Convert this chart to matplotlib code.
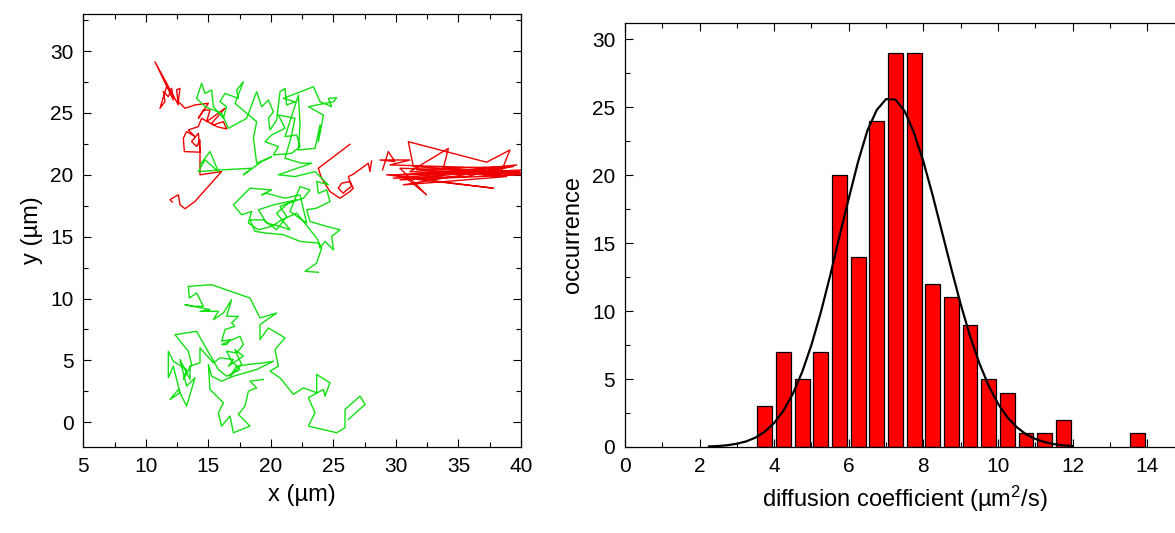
import numpy as np
import matplotlib
matplotlib.use('Agg')
import matplotlib.pyplot as plt
from matplotlib.ticker import MultipleLocator

plt.rcParams['font.family'] = ['Liberation Sans', 'DejaVu Sans']
plt.rcParams['mathtext.fontset'] = 'custom'
plt.rcParams['mathtext.rm'] = 'Liberation Sans'
plt.rcParams['mathtext.it'] = 'Liberation Sans'

# --- trajectories (x, y in um) ---
red_a = [(11.66, 27.13), (11.13, 25.38), (11.53, 25.92), (11.40, 26.72), (11.80, 26.32),
         (12.06, 26.99), (12.20, 26.05), (10.73, 29.14), (12.60, 25.65), (12.46, 26.86),
         (12.73, 26.99), (12.60, 25.92), (13.13, 25.38), (13.93, 25.65), (15.00, 25.78),
         (14.20, 24.57), (14.60, 25.24), (15.13, 25.24), (14.86, 24.30), (16.33, 25.38),
         (15.26, 24.17), (15.66, 23.90), (16.46, 23.71), (16.20, 24.30), (15.40, 24.03),
         (14.46, 24.57), (14.20, 23.90), (13.40, 23.63), (13.93, 23.09), (13.26, 23.50),
         (13.00, 22.96), (13.08, 21.88), (14.33, 21.83), (14.20, 23.36), (13.66, 22.69),
         (14.06, 22.29), (14.33, 22.83), (14.33, 20.00), (16.06, 20.27), (13.93, 17.85),
         (13.13, 17.26), (12.73, 17.58), (12.60, 18.39), (11.93, 17.99), (12.12, 17.80)]

red_c = [(26.32, 22.47), (23.79, 20.53), (24.05, 19.73), (24.72, 18.65), (25.52, 18.11),
         (26.32, 18.65), (26.59, 18.92), (26.32, 19.46), (25.65, 19.32), (25.39, 18.92),
         (25.79, 18.51), (26.05, 18.78), (26.45, 19.05), (26.19, 19.86), (26.59, 20.05),
         (27.79, 20.94), (27.92, 20.26), (28.05, 21.12)]

red_d = [(28.93, 20.40), (29.39, 21.88), (29.92, 21.07), (28.72, 21.20), (31.12, 21.20),
         (29.52, 20.80), (38.32, 20.53), (30.05, 20.00), (39.92, 20.26), (30.32, 20.53),
         (32.45, 18.38), (30.85, 19.73), (37.79, 18.92), (29.25, 20.00), (40.19, 20.13),
         (31.39, 20.67), (30.99, 22.68), (37.25, 21.02), (39.12, 22.01), (38.32, 20.00),
         (31.12, 20.26), (34.19, 22.14), (33.79, 20.53), (39.39, 20.67), (30.59, 19.19),
         (38.85, 19.86), (31.65, 20.40), (40.05, 20.00), (30.32, 19.59), (38.05, 20.40),
         (29.79, 19.73), (35.65, 19.86), (39.65, 20.80), (31.92, 20.00), (40.19, 20.40)]

green_b = [(14.33, 20.80), (15.13, 21.88), (15.80, 20.26), (14.73, 21.21), (14.20, 20.26),
           (16.06, 20.40), (18.46, 20.53), (17.80, 20.00), (19.26, 21.07), (20.06, 21.47),
           (18.86, 20.94), (18.73, 22.01), (18.60, 22.95), (18.86, 24.30), (17.93, 25.10),
           (17.13, 25.78), (17.80, 27.52), (17.26, 26.85), (17.40, 26.18), (16.33, 26.58),
           (15.93, 25.91), (16.46, 25.51), (16.20, 24.57), (15.40, 25.51), (15.26, 26.85),
           (14.73, 26.58), (14.46, 27.39), (14.06, 26.18), (14.73, 25.51), (16.06, 24.97),
           (16.60, 23.76), (18.06, 24.56), (18.86, 26.72), (19.26, 25.51), (19.80, 26.04),
           (20.20, 25.10), (19.80, 24.57), (19.93, 23.62), (20.46, 24.43), (20.73, 26.72),
           (21.13, 26.98), (21.26, 25.64), (21.93, 25.91), (20.99, 26.18), (23.40, 27.12),
           (23.93, 25.91), (24.86, 25.51), (24.60, 26.18), (25.26, 26.23), (25.00, 25.91),
           (23.00, 25.51), (24.20, 24.83), (23.80, 22.68), (23.93, 24.03), (23.53, 22.14),
           (22.20, 22.01), (22.33, 24.03), (22.20, 26.45), (21.13, 23.09), (22.06, 23.22),
           (22.33, 22.28), (21.66, 21.74), (20.20, 21.61), (20.60, 22.28), (19.53, 22.68),
           (20.06, 23.22), (21.13, 23.76), (20.60, 24.83), (21.93, 24.57), (21.66, 23.22),
           (21.13, 21.34), (22.46, 20.94), (23.26, 20.94), (20.60, 20.00),
           (21.93, 19.86), (23.53, 20.26), (24.60, 19.19), (23.66, 19.46), (23.80, 18.51),
           (24.46, 18.78), (24.73, 17.84), (23.66, 17.31), (22.86, 17.17), (23.13, 16.23),
           (24.46, 15.83), (25.53, 15.56), (24.86, 15.02), (25.00, 13.94), (24.33, 14.62),
           (23.93, 14.08), (23.80, 14.48), (22.33, 14.62), (21.00, 15.16), (19.66, 15.29),
           (18.73, 15.43), (18.33, 16.36), (19.40, 16.36), (20.46, 15.56), (21.26, 16.63),
           (20.73, 17.44), (22.06, 17.98), (20.20, 17.57), (19.00, 17.17), (19.66, 16.10),
           (20.73, 15.83), (21.53, 15.56), (20.46, 16.90), (21.40, 17.71), (22.60, 18.11),
           (23.13, 18.78), (22.33, 19.05), (21.53, 17.04), (22.86, 16.10), (22.33, 18.38),
           (21.13, 18.11), (19.66, 18.51), (19.26, 18.38), (20.06, 18.78), (18.33, 18.92),
           (17.00, 17.57), (17.66, 16.77), (18.46, 17.04), (18.20, 16.10), (19.00, 15.56),
           (20.06, 15.83), (20.86, 16.36), (22.06, 16.90), (23.66, 14.89), (24.06, 14.08),
           (23.66, 12.87), (22.73, 12.20), (23.80, 12.12)]

green_e = [(26.20, 0.23), (27.53, 1.44), (27.13, 2.11), (25.93, 1.04), (25.93, -0.44),
           (25.26, -0.85), (23.00, -0.31), (23.53, 0.77), (23.00, 1.98), (24.20, 2.65),
           (24.33, 2.11), (24.73, 3.19), (23.66, 3.86), (23.66, 2.38), (22.60, 2.78),
           (21.80, 2.25), (20.73, 3.59), (19.93, 4.13), (20.60, 4.53), (20.33, 5.87),
           (21.13, 6.82), (19.80, 7.62), (19.13, 6.68), (19.13, 7.89), (20.46, 8.83),
           (19.13, 8.43), (18.33, 10.04), (15.26, 11.12), (13.40, 10.98), (13.48, 10.04),
           (14.06, 10.45), (14.60, 9.37), (13.80, 9.37), (13.13, 9.50), (15.13, 9.10),
           (14.33, 8.97), (15.80, 8.97), (15.40, 8.29), (16.20, 8.83), (16.86, 9.91),
           (16.46, 8.56), (17.40, 8.56), (16.86, 8.03), (17.13, 7.76), (16.33, 7.49),
           (16.06, 6.55), (16.73, 6.68), (16.46, 6.28), (16.06, 6.28), (17.53, 6.95),
           (17.80, 6.28), (17.26, 5.60), (16.46, 5.74), (16.86, 4.93), (17.53, 4.26),
           (16.46, 3.72), (15.80, 4.26), (14.06, 7.35),
           (12.33, 7.08), (13.40, 5.74), (13.66, 4.67), (13.00, 3.46), (13.26, 4.26),
           (12.20, 4.93), (11.80, 5.74), (11.80, 3.59), (12.20, 4.53), (12.73, 2.38),
           (11.93, 1.84), (12.60, 2.65), (13.26, 1.31), (13.93, 3.59), (13.26, 2.92),
           (12.73, 5.07), (13.53, 3.46),
           (13.53, 4.53), (14.33, 4.80), (14.33, 6.01), (15.40, 4.80), (15.93, 5.20),
           (17.00, 5.07), (16.60, 4.53), (17.80, 5.34), (17.13, 5.87), (17.66, 4.67),
           (16.73, 3.72), (17.26, 4.53), (18.20, 4.67), (19.40, 4.80), (20.20, 4.93),
           (18.86, 4.26), (17.00, 3.72), (16.06, 3.32), (15.26, 3.72), (15.00, 4.67),
           (15.13, 2.65), (16.20, 1.57), (15.80, 0.77), (16.06, -0.31), (16.73, 0.50),
           (17.00, -0.85), (18.33, -0.31), (17.40, 0.63), (17.93, 1.31), (18.20, 2.51),
           (18.86, 2.78), (18.33, 3.32), (19.40, 3.46)]

red_tracks = [red_a, red_c, red_d]
green_tracks = [green_b, green_e]

# --- histogram of diffusion coefficients ---
bin_centers = [3.75, 4.25, 4.75, 5.25, 5.75, 6.25, 6.75, 7.25, 7.75, 8.25, 8.75,
               9.25, 9.75, 10.25, 10.75, 11.25, 11.75, 13.75]
counts = [3, 7, 5, 7, 20, 14, 24, 29, 29, 12, 11, 9, 5, 4, 1, 1, 2, 1]

# fitted curve
fit_x = [2.25, 2.5, 2.75, 3.0, 3.25, 3.5, 3.75, 4.0, 4.25, 4.5, 4.75, 5.0, 5.25, 5.5,
         5.75, 6.0, 6.25, 6.5, 6.75, 7.0, 7.25, 7.5, 7.75, 8.0, 8.25, 8.5, 8.75, 9.0,
         9.25, 9.5, 9.75, 10.0, 10.25, 10.5, 10.75, 11.0, 11.25, 11.5, 11.75, 12.0]
fit_y = [0.04, 0.07, 0.13, 0.24, 0.41, 0.69, 1.13, 1.77, 2.68, 3.91, 5.52, 7.52, 9.91,
         12.6, 15.5, 18.3, 21.0, 23.3, 24.8, 25.6, 25.56, 24.7, 23.1, 21.0, 18.5, 15.8,
         13.1, 10.5, 8.17, 6.16, 4.50, 3.19, 2.19, 1.46, 0.94, 0.59, 0.36, 0.21, 0.12, 0.07]

fig = plt.figure(figsize=(11.75, 5.33), dpi=100)

# left panel: trajectories
ax1 = fig.add_axes([0.0709, 0.1614, 0.3725, 0.8123])
for tr in red_tracks:
    a = np.array(tr)
    ax1.plot(a[:, 0], a[:, 1], color='#ee0000', lw=1.0)
for tr in green_tracks:
    a = np.array(tr)
    ax1.plot(a[:, 0], a[:, 1], color='#11e011', lw=1.0)
ax1.set_xlim(5, 40)
ax1.set_ylim(-2, 33)
ax1.xaxis.set_major_locator(MultipleLocator(5))
ax1.xaxis.set_minor_locator(MultipleLocator(2.5))
ax1.yaxis.set_major_locator(MultipleLocator(5))
ax1.yaxis.set_minor_locator(MultipleLocator(2.5))
ax1.set_xlabel('x (µm)', fontsize=17, labelpad=6)
ax1.set_ylabel('y (µm)', fontsize=17, labelpad=5)

# right panel: histogram
ax2 = fig.add_axes([0.5319, 0.1614, 0.4762, 0.7955])
ax2.bar(bin_centers, counts, width=0.4, color='#ff0000', edgecolor='black', lw=0.9, zorder=2)
ax2.plot(fit_x, fit_y, color='black', lw=1.6, zorder=3)
ax2.set_xlim(0, 15)
ax2.set_ylim(0, 31.2)
ax2.xaxis.set_major_locator(MultipleLocator(2))
ax2.xaxis.set_minor_locator(MultipleLocator(1))
ax2.yaxis.set_major_locator(MultipleLocator(5))
ax2.yaxis.set_minor_locator(MultipleLocator(2.5))
ax2.set_xlabel('diffusion coefficient (µm$^2$/s)', fontsize=17, labelpad=6)
ax2.set_ylabel('occurrence', fontsize=17, labelpad=6)
ax2.spines['right'].set_visible(False)

for ax in (ax1, ax2):
    ax.tick_params(which='both', direction='in', top=True, right=(ax is ax1),
                   labelsize=15, width=0.8, pad=7)
    ax.tick_params(which='major', length=6)
    ax.tick_params(which='minor', length=3.5)
    for s in ax.spines.values():
        s.set_linewidth(0.9)

fig.savefig('out.png', dpi=100)
